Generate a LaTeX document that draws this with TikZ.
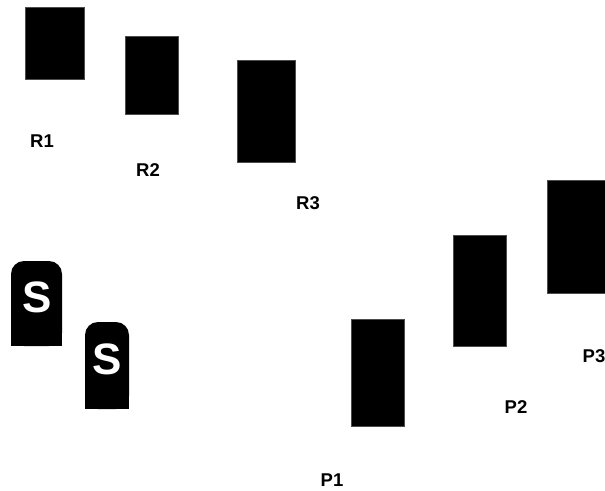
\documentclass[tikz,border=0pt]{standalone}
\usepackage{fontspec}
\setmainfont{Liberation Sans}
\begin{document}
\begin{tikzpicture}[x=1pt,y=-1pt,
  blk/.style={fill=black,draw=black!70,line width=0.6pt},
  lbl/.style={font=\bfseries\fontsize{18.5}{18.5}\selectfont,text=black,inner sep=0pt},
  stone/.style={fill=black,rounded corners=13pt},
  sl/.style={font=\bfseries\fontsize{44}{44}\selectfont,text=white,inner sep=0pt}]
\useasboundingbox (0,0) rectangle (605,490);
% R row
\path[blk] (25,7) rectangle (84,79);
\path[blk] (125,36) rectangle (178,114);
\path[blk] (237,60) rectangle (295,162);
\node[lbl] (r1) at (42,141) {R1};
\node[lbl] (r2) at (148,170) {R2};
\node[lbl] (r3) at (308,203) {R3};
% P row
\path[blk] (351,319) rectangle (404,426);
\path[blk] (453,235) rectangle (506,346);
\path[blk] (547,180) rectangle (610,293);
\node[lbl] (p1) at (332,480) {P1};
\node[lbl] (p2) at (516,407) {P2};
\node[lbl] (p3) at (594,356) {P3};
% S stones
\fill[stone] (11,346) -- (11,261) -- (62,261) -- (62,346) -- cycle;
\fill[black] (11,300) rectangle (62,346);
\fill[stone] (85,409) -- (85,322) -- (129,322) -- (129,409) -- cycle;
\fill[black] (85,360) rectangle (129,409);
\node[sl] (s1) at (37,297) {S};
\node[sl] (s2) at (107,359) {S};
\end{tikzpicture}
\end{document}
